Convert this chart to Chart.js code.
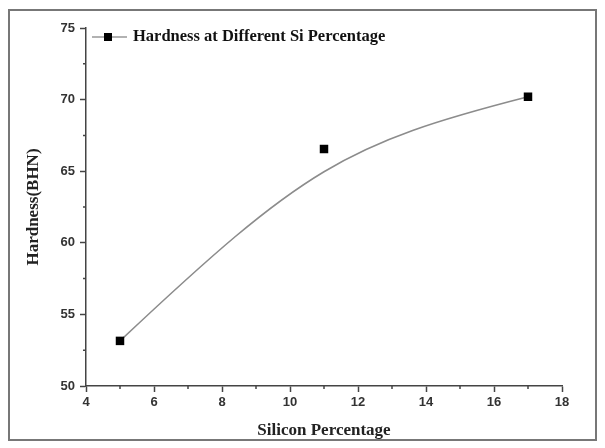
<!DOCTYPE html>
<html>
<head>
<meta charset="utf-8">
<script src="https://cdn.jsdelivr.net/npm/chart.js@4.4.0/dist/chart.umd.min.js"></script>
<style>
  html, body { margin: 0; padding: 0; background: #fff; }
  #wrap { width: 605px; height: 448px; position: relative; }
</style>
</head>
<body>
<div id="wrap"><canvas id="c" width="605" height="448"></canvas></div>
<script>
// data
const siliconPct = [5, 11, 17];
const hardness = [53.15, 66.55, 70.2];
const seriesLabel = "Hardness at Different Si Percentage";
const xTitle = "Silicon Percentage";
const yTitle = "Hardness(BHN)";
const xMinor = [5, 7, 9, 11, 13, 15, 17];
const yMinor = [52.5, 57.5, 62.5, 67.5, 72.5];

const serif = "'Liberation Serif', 'Times New Roman', serif";
const sans = "'Liberation Sans', Arial, sans-serif";
const axisColor = "#444";

// frame around the whole figure
const framePlugin = {
  id: "frame",
  beforeDraw(chart) {
    const ctx = chart.ctx;
    ctx.save();
    ctx.strokeStyle = "#777";
    ctx.lineWidth = 2;
    ctx.strokeRect(9, 10, 587, 430);
    ctx.restore();
  }
};

// smooth fitted curve through the data via the scales
const curvePlugin = {
  id: "curve",
  beforeDatasetsDraw(chart) {
    const xs = chart.scales.x, ys = chart.scales.y;
    const p = siliconPct.map((v, i) => ({ x: xs.getPixelForValue(v), y: ys.getPixelForValue(hardness[i]) }));
    const k = 0.9;
    const c1 = { x: p[0].x + k * (p[1].x - p[0].x), y: p[0].y + k * (p[1].y - p[0].y) };
    const c2 = { x: p[2].x + k * (p[1].x - p[2].x), y: p[2].y + k * (p[1].y - p[2].y) };
    const ctx = chart.ctx;
    ctx.save();
    ctx.strokeStyle = "#8c8c8c";
    ctx.lineWidth = 1.6;
    ctx.beginPath();
    ctx.moveTo(p[0].x, p[0].y);
    ctx.bezierCurveTo(c1.x, c1.y, c2.x, c2.y, p[2].x, p[2].y);
    ctx.stroke();
    ctx.restore();
  }
};

// minor ticks + legend in the top-left corner of the plot
const extrasPlugin = {
  id: "extras",
  afterDraw(chart) {
    const ctx = chart.ctx;
    const xs = chart.scales.x, ys = chart.scales.y;
    const a = chart.chartArea;
    ctx.save();
    ctx.strokeStyle = axisColor;
    ctx.lineWidth = 1.5;
    ctx.beginPath();
    xMinor.forEach(v => {
      const px = xs.getPixelForValue(v);
      ctx.moveTo(px, a.bottom);
      ctx.lineTo(px, a.bottom + 3);
    });
    yMinor.forEach(v => {
      const py = ys.getPixelForValue(v);
      ctx.moveTo(a.left, py);
      ctx.lineTo(a.left - 3, py);
    });
    ctx.stroke();

    // legend
    const ly = 37;
    ctx.strokeStyle = "#666";
    ctx.lineWidth = 1.2;
    ctx.beginPath();
    ctx.moveTo(a.left + 6, ly);
    ctx.lineTo(a.left + 41, ly);
    ctx.stroke();
    ctx.fillStyle = "#000";
    ctx.fillRect(a.left + 18, ly - 4, 8, 8);
    ctx.font = "bold 16.5px " + serif;
    ctx.textBaseline = "middle";
    ctx.fillStyle = "#111";
    ctx.fillText(chart.data.datasets[0].label, a.left + 47, ly);
    ctx.restore();
  }
};

new Chart(document.getElementById("c"), {
  type: "scatter",
  data: {
    datasets: [{
      label: seriesLabel,
      data: siliconPct.map((x, i) => ({ x: x, y: hardness[i] })),
      pointStyle: "rect",
      pointRadius: 6,
      pointHoverRadius: 6,
      backgroundColor: "#000",
      borderColor: "#000",
      borderWidth: 0,
      showLine: false
    }]
  },
  options: {
    responsive: false,
    animation: false,
    devicePixelRatio: 1,
    layout: { padding: { top: 28, right: 43, left: 0, bottom: 0 } },
    plugins: { legend: { display: false }, tooltip: { enabled: false } },
    scales: {
      x: {
        type: "linear",
        min: 4, max: 18,
        afterFit: s => { s.height = 62; },
        grid: { drawOnChartArea: false, drawTicks: true, tickLength: 6, color: axisColor, tickWidth: 1.5 },
        border: { display: true, color: axisColor, width: 1.5 },
        ticks: { stepSize: 2, padding: 3, color: "#333", font: { family: sans, size: 13, weight: "bold" }, maxRotation: 0 },
        title: { display: true, text: xTitle, color: "#222", font: { family: serif, size: 17, weight: "bold" }, padding: { top: 0, bottom: 7 } }
      },
      y: {
        type: "linear",
        min: 50, max: 75,
        afterFit: s => { s.width = 86; },
        grid: { drawOnChartArea: false, drawTicks: true, tickLength: 6, color: axisColor, tickWidth: 1.5 },
        border: { display: true, color: axisColor, width: 1.5 },
        ticks: { stepSize: 5, padding: 5, color: "#333", font: { family: sans, size: 13, weight: "bold" } },
        title: { display: true, text: yTitle, color: "#222", font: { family: serif, size: 17, weight: "bold" }, padding: { top: 23, bottom: 0 } }
      }
    }
  },
  plugins: [framePlugin, curvePlugin, extrasPlugin]
});
</script>
</body>
</html>
